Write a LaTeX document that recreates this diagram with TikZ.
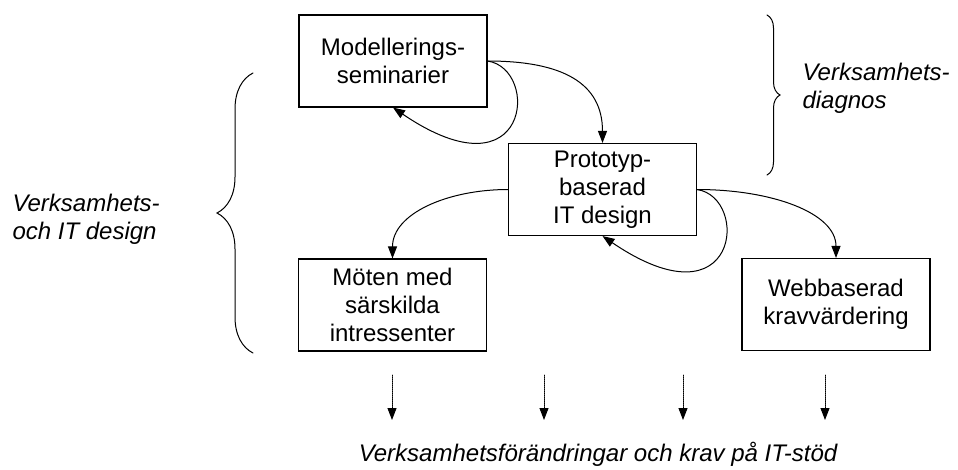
\documentclass[tikz,border=0pt]{standalone}
\usepackage{fontspec}
\setmainfont{Liberation Sans}
\usetikzlibrary{arrows.meta,decorations.pathreplacing}

\begin{document}
\begin{tikzpicture}
		[x=1pt,y=-1pt,line cap=round,
		%Styles
		main node/.style={draw,line width=1.1pt,minimum width=188pt,minimum height=92pt,align=center,font=\fontsize{24}{28}\selectfont},
		side text/.style={align=left,font=\fontsize{24}{28}\selectfont\itshape},
		flow/.style={-{Triangle[length=12pt,width=9pt]},line width=1pt},
		result/.style={-{Triangle[length=12pt,width=9pt]},densely dotted,line width=1pt},
		brace line/.style={decorate,line width=1pt}
		]
		
		\useasboundingbox (0,0) rectangle (958,469);
		
		\node[main node] (1) at (393,61) {Modellerings-\\seminarier};
		\node[main node] (2) at (602.5,189.5) {Prototyp-\\baserad\\IT design};
		\node[main node] (3) at (392.5,305) {Möten med\\särskilda\\intressenter};
		\node[main node] (4) at (836,304.5) {Webbaserad\\kravvärdering};
		
		\draw[flow] (1.east) .. controls +(75,0) and +(0,-60) .. (2.north);
		\draw[flow] (1.east) .. controls +(53,8) and +(137,93) .. (1.south);
		\draw[flow] (2.west) .. controls +(-60,0) and +(0,-45) .. (3.north);
		\draw[flow] (2.east) .. controls +(75,0) and +(0,-45) .. (4.north);
		\draw[flow] (2.east) .. controls +(53,8) and +(137,93) .. (2.south);
		
		%Braces
		\draw[brace line,decoration={brace,amplitude=36pt}] (253,353) -- (253,73);
		\draw[brace line,decoration={brace,amplitude=13pt}] (767,15) -- (767,175);
		\node[side text,anchor=west] (left label) at (9,219) {Verksamhets-\\och IT design};
		\node[side text,anchor=west] (right label) at (799,88) {Verksamhets-\\diagnos};
		
		%Outcome
		\foreach \x [count=\i] in {392,544,683,825}
		{
			\coordinate (top\i) at (\x,375);
			\coordinate (tip\i) at (\x,420);
			\draw[result] (top\i) -- (tip\i);
		}
		\node[font=\fontsize{24}{28}\selectfont\itshape,anchor=base] (outcome) at (598,461) {Verksamhetsförändringar och krav på IT-stöd};
	\end{tikzpicture}
\end{document}
